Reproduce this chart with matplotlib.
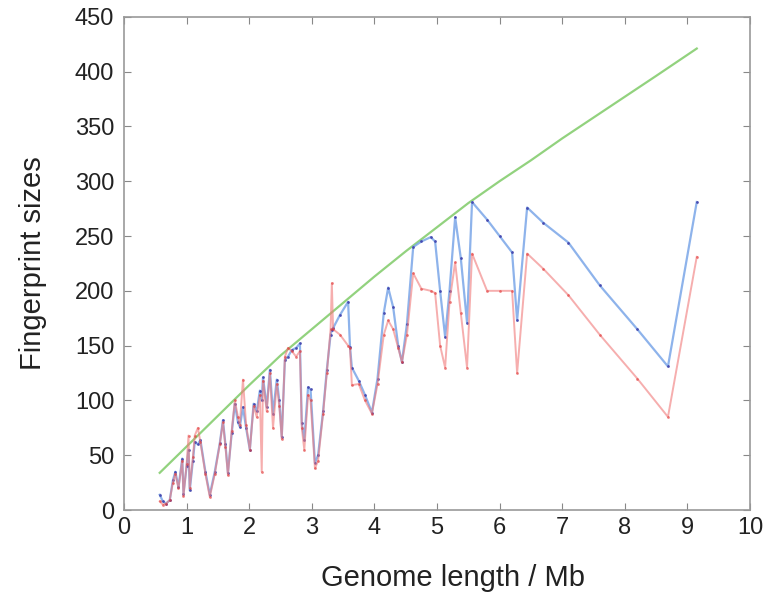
import matplotlib.pyplot as plt

# genome lengths (Mb), shared by both fingerprint series
genome_len = [0.57, 0.62, 0.67, 0.73, 0.78, 0.82, 0.87, 0.93, 0.95, 1.0,
              1.03, 1.05, 1.1, 1.13, 1.18, 1.22, 1.3, 1.37, 1.45, 1.53,
              1.58, 1.62, 1.66, 1.72, 1.77, 1.82, 1.85, 1.9, 1.95, 2.01,
              2.07, 2.12, 2.17, 2.2, 2.22, 2.28, 2.33, 2.38, 2.44, 2.48,
              2.52, 2.57, 2.62, 2.68, 2.75, 2.81, 2.84, 2.88, 2.94, 2.98,
              3.05, 3.1, 3.18, 3.24, 3.3, 3.32, 3.34, 3.45, 3.58, 3.61,
              3.64, 3.75, 3.85, 3.96, 4.05, 4.15, 4.22, 4.3, 4.38, 4.44,
              4.52, 4.62, 4.75, 4.9, 4.97, 5.05, 5.13, 5.2, 5.29, 5.38,
              5.48, 5.56, 5.8, 6.0, 6.2, 6.28, 6.44, 6.7, 7.1, 7.6,
              8.2, 8.69, 9.15]

blue_sizes = [14, 8, 6, 9, 27, 35, 21, 47, 15, 40,
              55, 18, 45, 62, 60, 64, 35, 14, 35, 61,
              82, 60, 34, 70, 97, 80, 76, 94, 75, 55,
              97, 90, 109, 100, 121, 94, 128, 88, 119, 100,
              67, 137, 140, 146, 148, 152, 79, 64, 112, 110,
              43, 50, 90, 128, 160, 164, 166, 178, 190, 149,
              130, 118, 105, 89, 120, 180, 203, 185, 150, 135,
              170, 240, 245, 249, 245, 200, 158, 200, 267, 230,
              171, 281, 265, 250, 235, 173, 276, 262, 244, 205,
              165, 131, 281]

red_sizes = [8, 5, 6, 9, 25, 33, 20, 45, 13, 42,
             68, 20, 48, 68, 75, 62, 33, 12, 33, 60,
             80, 58, 32, 72, 100, 85, 78, 119, 78, 55,
             95, 85, 105, 35, 118, 90, 125, 75, 115, 95,
             65, 140, 148, 145, 140, 145, 75, 55, 105, 100,
             38, 45, 88, 125, 165, 207, 165, 160, 150, 148,
             114, 115, 100, 88, 115, 160, 173, 165, 148, 135,
             160, 216, 202, 200, 198, 150, 130, 190, 226, 180,
             130, 234, 200, 200, 200, 125, 234, 220, 196, 160,
             120, 85, 231]

# upper bound curve
bound_len = [0.57, 1.0, 1.5, 2.0, 2.5, 3.0, 3.5, 4.0, 4.5, 5.0,
             5.5, 6.0, 6.5, 7.0, 7.5, 8.0, 8.5, 9.15]
bound_sizes = [34, 58, 86, 114, 141, 165, 189, 213, 236, 258,
               280, 300, 319, 339, 358, 377, 396, 421]

plt.rcParams['font.family'] = ['Liberation Sans', 'DejaVu Sans']

fig = plt.figure(figsize=(7.68, 5.98), dpi=100)
ax = fig.add_axes([0.1615, 0.147, 0.815, 0.825])

ax.plot(bound_len, bound_sizes, color='#92d27e', lw=1.6)
ax.plot(genome_len, blue_sizes, color='#7aa6e8', lw=1.6, alpha=0.85,
        marker='o', ms=2, mfc='#3a3aa8', mec='none')
ax.plot(genome_len, red_sizes, color='#f07878', lw=1.4, alpha=0.6,
        marker='o', ms=2, mfc='#e03030', mec='none')

ax.set_xlim(0, 10)
ax.set_ylim(0, 450)
ax.set_xticks(range(0, 11))
ax.set_yticks(range(0, 451, 50))
ax.tick_params(direction='in', top=True, right=True, length=5,
               color='#888888', labelsize=17, labelcolor='#222222')
ax.tick_params(axis='y', pad=7)
ax.tick_params(axis='x', pad=5)
for s in ax.spines.values():
    s.set_color('#999999')
    s.set_linewidth(1.2)

ax.set_xlabel('Genome length / Mb', fontsize=21, color='#222222',
              labelpad=18, x=0.525)
ax.set_ylabel('Fingerprint sizes', fontsize=21, color='#222222', labelpad=20)

plt.savefig('out.png', dpi=100)
